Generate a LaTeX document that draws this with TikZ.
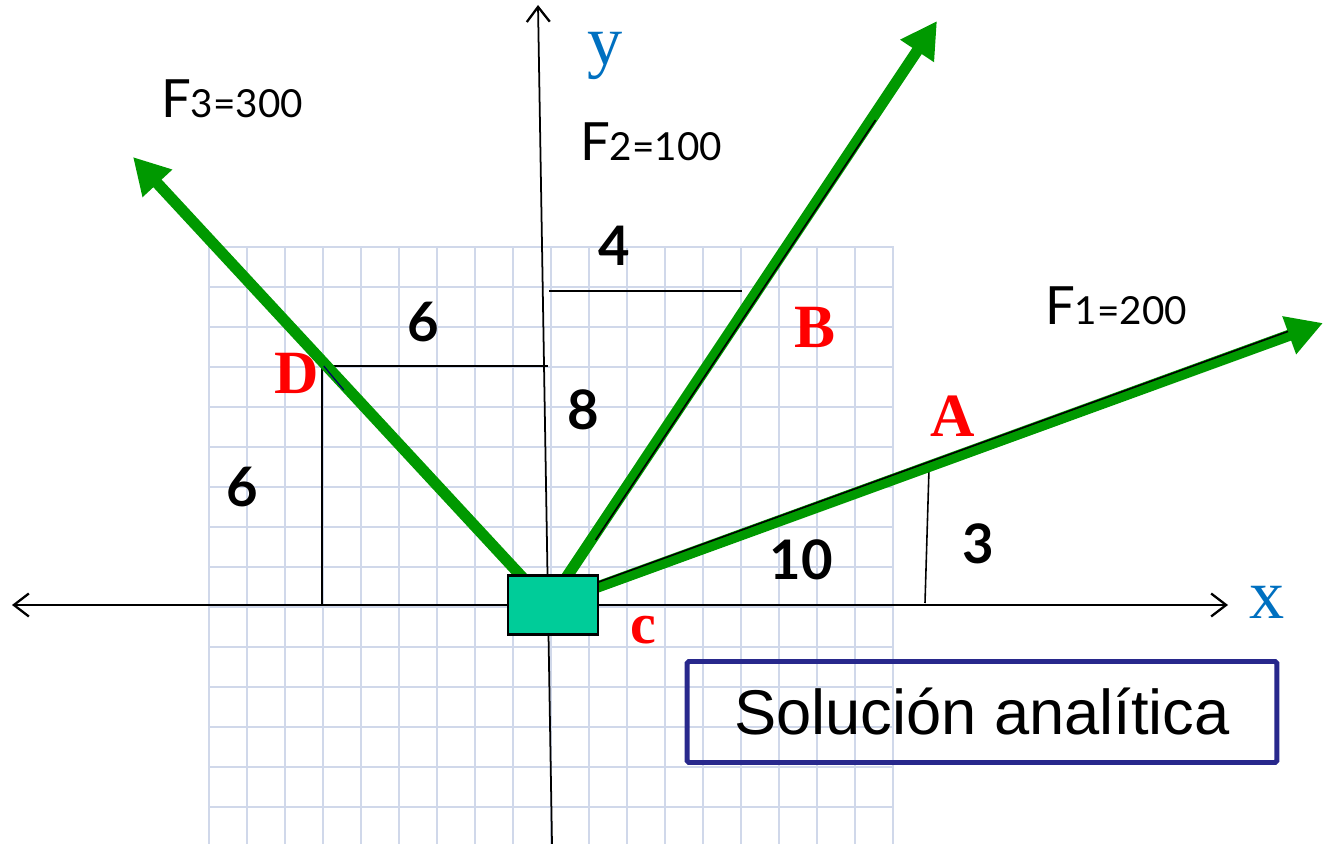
\documentclass[tikz,border=0pt]{standalone}
\usepackage{fontspec}
\setmainfont{Liberation Serif}
\newfontfamily\gillfont{Lato}
\newfontfamily\arialfont{Liberation Sans}
\usepackage{xcolor}
\usetikzlibrary{arrows.meta, positioning}

\definecolor{forcegreen}{RGB}{0,153,0}
\definecolor{blockgreen}{RGB}{0,204,153}
\definecolor{axisblue}{RGB}{0,112,192}
\definecolor{gridblue}{RGB}{208,216,234}
\definecolor{framenavy}{RGB}{40,40,140}

\begin{document}
\begin{tikzpicture}[x=0.02cm, y=-0.02cm,
    gridline/.style={draw=gridblue, line width=1.6pt},
    axis/.style={line width=1pt},
    force/.style={draw=forcegreen, line width=6.4pt, -{Triangle[length=7.2mm, width=7.6mm]}},
    dimline/.style={line width=0.9pt},
    block/.style={draw, line width=1.4pt, fill=blockgreen, minimum width=1.8cm, minimum height=1.18cm, inner sep=0pt},
    point/.style={text=red, font=\bfseries\fontsize{35}{35}\selectfont},
    dimlabel/.style={font=\gillfont\bfseries\fontsize{31}{31}\selectfont},
    forcelabel/.style={font=\gillfont\fontsize{30}{30}\selectfont},
    axislabel/.style={text=axisblue, font=\fontsize{40}{40}\selectfont},
    titlebox/.style={draw=framenavy, line width=2.8pt, rounded corners=1pt, minimum width=11.8cm, minimum height=2.02cm, font=\arialfont\fontsize{36}{36}\selectfont}
  ]
    \useasboundingbox (0,0) rectangle (1323,844);

    % 1. Cuadrícula
    \foreach \i in {0,...,18} {
        \draw[gridline] ({209+38*\i},247) -- ({209+38*\i},844);
    }
    \foreach \j in {0,...,14} {
        \draw[gridline] (209,{247+40*\j}) -- (894,{247+40*\j});
    }

    % 2. Ejes
    \coordinate (O) at (548,605);
    \coordinate (xl) at (12,605);
    \coordinate (xr) at (1228,605);
    \coordinate (yb) at (552,844);
    \coordinate (yt) at (538,5);
    \draw[axis, {Straight Barb[length=3mm, width=4.6mm, line width=1.3pt]}-{Straight Barb[length=3mm, width=4.6mm, line width=1.3pt]}] (xl) -- (xr);
    \draw[axis, -{Straight Barb[length=3mm, width=4.6mm, line width=1.3pt]}] (yb) -- (yt);
    \node[axislabel] (xlab) at (1267,602) {x};
    \node[axislabel] (ylab) at (605,56) {y};

    % 3. Puntos sobre las fuerzas y cotas
    \coordinate (A) at (929,469);
    \coordinate (Ax) at (925,603);
    \coordinate (B) at (742,291);
    \coordinate (By) at (549,291);
    \coordinate (D) at (322,366);
    \coordinate (Dy) at (548,366);
    \coordinate (Dx) at (322,605);
    \draw[dimline] (A) -- (Ax);
    \draw[dimline] (By) -- (B);
    \draw[dimline] (D) -- (Dy);
    \draw[dimline] (D) -- (Dx);

    % 4. Fuerzas
    \coordinate (F1tip) at (1323,323);
    \coordinate (F2tip) at (937,21);
    \coordinate (F3tip) at (133,157);
    \draw[force] (O) -- (F1tip);
    \draw[force] (O) -- (F2tip);
    \draw[force] (O) -- (F3tip);
    \draw[line width=0.9pt] ([yshift=2.6pt]O) -- ([yshift=2.6pt]1288,336);
    \draw[line width=0.9pt] ([xshift=2.6pt]591,540) -- ([xshift=2.6pt]871,120);
    \draw[line width=0.7pt, draw=black!60!blue] ([xshift=1pt]D) -- ([xshift=1pt]342,390);

    % 5. Bloque
    \node[block] (C) at (553,605) {};
    \node[point, font=\bfseries\fontsize{33}{33}\selectfont] (clab) at (643,630) {c};

    % 6. Nombres de los puntos
    \node[point] (Alab) at (953,416) {A};
    \node[point] (Blab) at (815,327) {B};
    \node[point] (Dlab) at (297,373) {D};

    % 7. Valores de las cotas
    \node[dimlabel] (d6a) at (423,322) {6};
    \node[dimlabel] (d6b) at (242,487) {6};
    \node[dimlabel] (d8) at (583,410) {8};
    \node[dimlabel] (d4) at (614,246) {4};
    \node[dimlabel] (d10) at (801,560) {10};
    \node[dimlabel] (d3) at (978,544) {3};

    % 8. Módulos de las fuerzas
    \node[forcelabel] (F1) at (1116,306) {F{\fontsize{22}{22}\selectfont 1=200}};
    \node[forcelabel] (F2) at (651,142) {F{\fontsize{22}{22}\selectfont 2=100}};
    \node[forcelabel] (F3) at (232,99) {F{\fontsize{22}{22}\selectfont 3=300}};

    % 9. Rótulo
    \node[titlebox] (sol) at (982,712) {Solución analítica};
\end{tikzpicture}
\end{document}
